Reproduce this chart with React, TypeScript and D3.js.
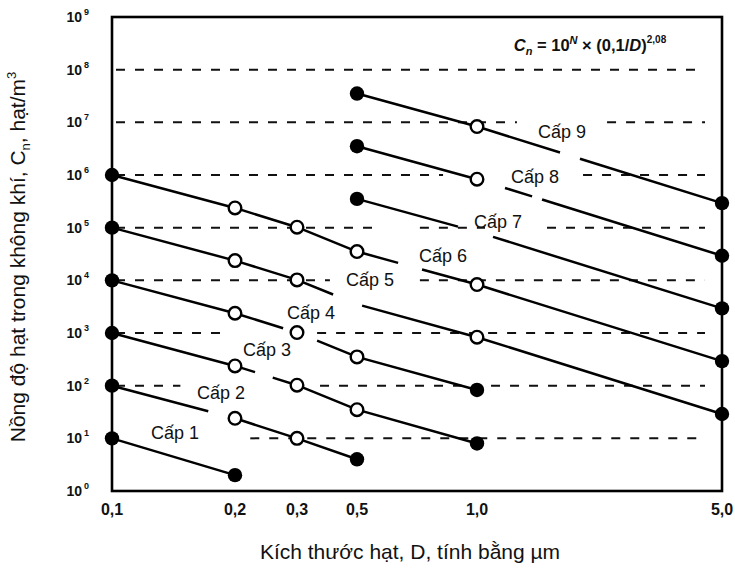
import React from "react";
import * as d3 from "d3";

// ---- data ----
const sizes = [0.1, 0.2, 0.3, 0.5, 1.0, 5.0];
const sizeLabels = ["0,1", "0,2", "0,3", "0,5", "1,0", "5,0"];
const decades = [0, 1, 2, 3, 4, 5, 6, 7, 8, 9];
const gridDecades = [1, 2, 3, 4, 5, 6, 7, 8];

const classNames = ["Cấp 1", "Cấp 2", "Cấp 3", "Cấp 4", "Cấp 5", "Cấp 6", "Cấp 7", "Cấp 8", "Cấp 9"];
const classSizes = [
  [0.1, 0.2],
  [0.1, 0.2, 0.3, 0.5],
  [0.1, 0.2, 0.3, 0.5, 1.0],
  [0.1, 0.2, 0.3, 0.5, 1.0],
  [0.1, 0.2, 0.3, 0.5, 1.0, 5.0],
  [0.1, 0.2, 0.3, 0.5, 1.0, 5.0],
  [0.5, 1.0, 5.0],
  [0.5, 1.0, 5.0],
  [0.5, 1.0, 5.0],
];
const classValues = [
  [10, 2],
  [100, 24, 10, 4],
  [1000, 237, 102, 35, 8],
  [10000, 2370, 1020, 352, 83],
  [100000, 23700, 10200, 3520, 832, 29],
  [1000000, 237000, 102000, 35200, 8320, 293],
  [352000, 83200, 2930],
  [3520000, 832000, 29300],
  [35200000, 8320000, 293000],
];
// points hidden behind label boxes in the original
const hiddenPoints = [[], [], [], [], [0.5], [], [1.0], [], []];
// breaks in each class line (particle size ranges)
const lineGaps = [
  [],
  [[0.172, 0.194]],
  [[0.228, 0.256]],
  [[0.274, 0.356]],
  [[0.408, 0.515]],
  [[0.634, 0.728]],
  [[0.896, 1.111]],
  [[1.02, 1.202], [1.436, 1.533]],
  [[1.725, 1.967]],
];
// label anchors (size, concentration)
const labelSizes = [0.1426, 0.1848, 0.2466, 0.338, 0.539, 0.822, 1.148, 1.464, 1.748];
const labelValues = [12.6, 72.6, 475, 2400, 10140, 28970, 128000, 916000, 6550000];
// breaks in dashed grid lines, per decade 1..8
const gridGaps = [
  [[0.1, 0.221]],
  [[0.147, 0.365]],
  [[0.189, 0.356]],
  [[0.397, 0.719]],
  [[0.571, 0.719], [1.054, 1.584]],
  [[0.822, 2.007]],
  [[1.3, 2.35]],
  [],
];

const W = 735;
const H = 568;
const FONT = "'Liberation Sans', Arial, Helvetica, sans-serif";

const x = d3.scaleLog().domain(sizes).range([112, 235, 297, 357, 477, 722]);
const y = d3.scaleLog().domain([1, 1e9]).range([491, 17]);

function pointAt(ds: number[], vs: number[], D: number): [number, number] {
  for (let i = 0; i < ds.length - 1; i++) {
    if (D >= ds[i] - 1e-9 && D <= ds[i + 1] + 1e-9) {
      const x0 = x(ds[i]), x1 = x(ds[i + 1]);
      const y0 = y(vs[i]), y1 = y(vs[i + 1]);
      const t = (x(D) - x0) / (x1 - x0);
      return [x0 + t * (x1 - x0), y0 + t * (y1 - y0)];
    }
  }
  return [x(D), y(vs[vs.length - 1])];
}

function pieces(ds: number[], vs: number[], gaps: number[][]): [number, number][][] {
  const out: [number, number][][] = [];
  let start = ds[0];
  const ends = [...gaps.map((g) => g), [ds[ds.length - 1], Infinity]];
  for (const g of ends) {
    const a = start, b = g[0];
    const verts = [a, ...ds.filter((d) => d > a + 1e-9 && d < b - 1e-9), b];
    out.push(verts.map((d) => pointAt(ds, vs, d)));
    start = g[1];
  }
  return out;
}

const lineGen = d3.line<[number, number]>().x((p) => p[0]).y((p) => p[1]);

export default function App() {
  const gx0 = x(0.1) + 4;
  const gx1 = x(5) - 17;
  return (
    <svg width={W} height={H} style={{ position: "absolute", left: 0, top: 0, background: "#fff" }} fontFamily={FONT}>
      <rect x={0} y={0} width={W} height={H} fill="#fff" />
      {/* dashed grid lines */}
      {gridDecades.map((k, i) => {
        const gaps = gridGaps[i];
        const segs: [number, number][] = [];
        let s = gx0;
        for (const g of gaps) {
          const a = Math.max(gx0, x(g[0]));
          const b = x(g[1]);
          if (a > s) segs.push([s, a]);
          s = Math.max(s, b);
        }
        if (s < gx1) segs.push([s, gx1]);
        return segs.map((sg, j) => (
          <line key={`g${k}-${j}`} x1={sg[0]} x2={sg[1]} y1={y(Math.pow(10, k))} y2={y(Math.pow(10, k))}
            stroke="#111" strokeWidth={2} strokeDasharray="9,10" />
        ));
      })}
      {/* frame */}
      <rect x={x(0.1)} y={y(1e9)} width={x(5) - x(0.1)} height={y(1) - y(1e9)} fill="none" stroke="#000" strokeWidth={2.6} />
      {/* class lines */}
      {classSizes.map((ds, ci) =>
        pieces(ds, classValues[ci], lineGaps[ci]).map((pts, j) => (
          <path key={`l${ci}-${j}`} d={lineGen(pts) || ""} fill="none" stroke="#000" strokeWidth={2.5} />
        ))
      )}
      {/* points */}
      {classSizes.map((ds, ci) =>
        ds.map((d, i) => {
          if (hiddenPoints[ci].includes(d)) return null;
          const end = i === 0 || i === ds.length - 1;
          return end ? (
            <circle key={`p${ci}-${i}`} cx={x(d)} cy={y(classValues[ci][i])} r={7.2} fill="#000" />
          ) : (
            <circle key={`p${ci}-${i}`} cx={x(d)} cy={y(classValues[ci][i])} r={6.3} fill="#fff" stroke="#000" strokeWidth={2.4} />
          );
        })
      )}
      {/* class labels */}
      {classNames.map((n, i) => (
        <text key={`c${i}`} x={x(labelSizes[i])} y={y(labelValues[i])} textAnchor="middle" dominantBaseline="central"
          fontSize={18} fill="#111">{n}</text>
      ))}
      {/* y tick labels */}
      {decades.map((k) => (
        <text key={`y${k}`} x={89} y={y(Math.pow(10, k)) + 5} textAnchor="end" fontSize={14} fontWeight="bold" fill="#111">
          10<tspan fontSize={9} dx={2} dy={-7}>{k}</tspan>
        </text>
      ))}
      {/* x tick labels */}
      {sizes.map((d, i) => (
        <text key={`x${i}`} x={x(d)} y={515} textAnchor="middle" fontSize={16} fontWeight="bold" fill="#111">{sizeLabels[i]}</text>
      ))}
      {/* axis titles */}
      <text x={410} y={559} textAnchor="middle" fontSize={21} fill="#111">Kích thước hạt, D, tính bằng µm</text>
      <text transform="translate(25,257) rotate(-90)" textAnchor="middle" fontSize={21} fill="#111">
        Nồng độ hạt trong không khí, C<tspan fontSize={13} dy={5}>n</tspan><tspan dy={-5}>, hạt/m</tspan>
        <tspan fontSize={13} dy={-9}>3</tspan>
      </text>
      {/* formula */}
      <text x={590} y={51} textAnchor="middle" fontSize={16.5} fontWeight="bold" fill="#111">
        <tspan fontStyle="italic">C</tspan><tspan fontSize={11} fontStyle="italic" dy={4}>n</tspan>
        <tspan dy={-4}> = 10</tspan><tspan fontSize={11} fontStyle="italic" dy={-7}>N</tspan>
        <tspan dy={7}> × (0,1/</tspan><tspan fontStyle="italic">D</tspan><tspan>)</tspan>
        <tspan fontSize={10} dy={-8}>2,08</tspan>
      </text>
    </svg>
  );
}
